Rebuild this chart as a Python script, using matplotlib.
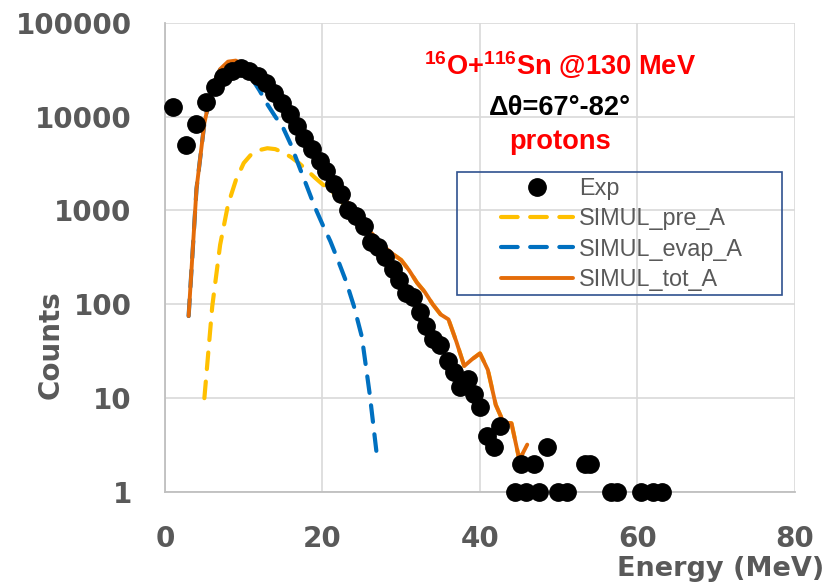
import matplotlib
matplotlib.use("Agg")
import matplotlib.pyplot as plt
from matplotlib import font_manager
from matplotlib.patches import Rectangle
from matplotlib.ticker import FixedLocator, FixedFormatter

# measured proton spectrum
exp_energy = [1.06, 2.67, 3.9, 5.16, 6.35, 7.4, 8.47, 9.6, 10.7, 11.85, 12.8, 13.84,
              14.86, 15.87, 16.7, 17.7, 18.7, 19.7, 20.5, 21.5, 22.35, 23.3, 24.25,
              25.3, 26.1, 27.1, 27.9, 28.9, 29.75, 30.6, 31.45, 32.4, 33.2, 34.0,
              34.9, 36.0, 36.7, 37.5, 38.5, 39.3, 40.0, 40.9, 41.8, 42.6, 44.4, 45.2,
              45.8, 46.8, 47.5, 48.5, 49.9, 51.0, 53.3, 54.0, 56.7, 57.4, 60.5, 62.0,
              63.1]
exp_counts = [12600, 5000, 8300, 14400, 20500, 26600, 30800, 32700, 30800, 27000,
              22900, 17900, 13800, 10600, 7900, 5900, 4480, 3360, 2630, 1910, 1500,
              1010, 870, 690, 465, 410, 321, 238, 183, 133, 120, 83, 59, 43, 37, 25,
              19, 13, 16, 11, 8, 4, 3, 5, 1, 2, 1, 2, 1, 3, 1, 1, 2, 2, 1, 1, 1, 1, 1]

# simulations
pre_energy = list(range(5, 47))
pre_counts = [10, 95, 430, 1150, 2100, 3200, 4000, 4400, 4600, 4500, 4150, 3700,
              3200, 2700, 2250, 1900, 1650, 1350, 1100, 900, 735, 590, 488, 400, 340,
              296, 230, 170, 135, 100, 78, 69, 40, 22, 26, 30, 20, 8.5, 5.5, 5.4, 2.2,
              3.2]

evap_energy = list(range(3, 28))
evap_counts = [75, 1700, 8490, 20900, 31600, 37400, 37400, 31800, 25700, 19000,
               13500, 10000, 7600, 5000, 3000, 1820, 1100, 710, 470, 290, 175, 95, 45,
               11, 2.1]

tot_energy = list(range(3, 47))
tot_counts = [75, 1700, 8500, 21000, 32000, 38500, 39500, 35000, 29500, 24500, 19500,
              15000, 11500, 8600, 6500, 4900, 3700, 2800, 2150, 1650, 1280, 1000, 780,
              600, 490, 400, 340, 296, 230, 170, 135, 100, 78, 69, 40, 22, 26, 30, 20,
              8.5, 5.5, 5.4, 2.2, 3.2]

x_ticks = [0, 20, 40, 60, 80]
y_ticks = [1, 10, 100, 1000, 10000, 100000]
y_tick_labels = ["1", "10", "100", "1000", "10000", "100000"]

GRAY = "#595959"
GRID = "#D9D9D9"
ORANGE = "#E46C0A"
BLUE = "#0070C0"
YELLOW = "#FFC000"
RED = "#FF0000"

installed = {f.name for f in font_manager.fontManager.ttflist}
label_font = "Liberation Sans" if "Liberation Sans" in installed else "DejaVu Sans"
narrow = "Liberation Sans Narrow" in installed

fig = plt.figure(figsize=(8.25, 5.84), dpi=100)
ax = fig.add_axes([0.2, 0.1575, 0.7636, 0.8036])

ax.set_yscale("log")
ax.set_xlim(0, 80)
ax.set_ylim(1, 100000)

ax.xaxis.set_major_locator(FixedLocator(x_ticks))
ax.yaxis.set_major_locator(FixedLocator(y_ticks))
ax.yaxis.set_major_formatter(FixedFormatter(y_tick_labels))
ax.yaxis.set_minor_locator(FixedLocator([]))
ax.grid(True, which="major", color=GRID, lw=1.2, zorder=0)
ax.set_axisbelow(True)

for side in ("top", "right"):
    ax.spines[side].set_visible(False)
for side in ("left", "bottom"):
    ax.spines[side].set_color("#BFBFBF")
    ax.spines[side].set_linewidth(1.3)

ax.tick_params(axis="x", length=0, pad=24, labelsize=20, labelcolor=GRAY)
ax.tick_params(axis="y", length=0, pad=24, labelsize=20, labelcolor=GRAY)
for lab in ax.get_xticklabels() + ax.get_yticklabels():
    lab.set_fontweight("bold")

# curves, then the data points on top
l_pre, = ax.plot(pre_energy, pre_counts, color=YELLOW, lw=3, ls=(0, (4, 3)),
                 dash_capstyle="round", zorder=2, label="SIMUL_pre_A")
l_evap, = ax.plot(evap_energy, evap_counts, color=BLUE, lw=3, ls=(0, (4, 3)),
                  dash_capstyle="round", zorder=3, label="SIMUL_evap_A")
l_tot, = ax.plot(tot_energy, tot_counts, color=ORANGE, lw=2.8,
                 solid_capstyle="round", zorder=4, label="SIMUL_tot_A")
l_exp, = ax.plot(exp_energy, exp_counts, ls="none", marker="o", ms=12.5,
                 color="black", zorder=5, clip_on=False, label="Exp")

leg = ax.legend(handles=[l_exp, l_pre, l_evap, l_tot], loc="center left",
                bbox_to_anchor=(0.5145, 0.55), frameon=False, borderpad=0,
                handlelength=3.1, handletextpad=0.25, labelspacing=0.31,
                numpoints=1, prop={"family": label_font, "size": 16.8})
for t in leg.get_texts():
    t.set_color(GRAY)

ax.add_patch(Rectangle((0.4635, 0.4198), 0.5155, 0.2622, transform=ax.transAxes,
                       fill=False, edgecolor="#2F528F", lw=1.2, zorder=6))

# reaction labels
fig.text(560 / 825, 1 - 75 / 584,
         r"$\mathregular{^{16}}$O+$\mathregular{^{116}}$Sn @130 MeV",
         ha="center", va="baseline", color=RED, fontsize=19.6,
         fontweight="bold", family=label_font)
fig.text(560 / 825, 1 - 115 / 584, "Δθ=67°-82°", ha="center", va="baseline",
         color="black", fontsize=19.6, fontweight="bold", family=label_font)
fig.text(560 / 825, 1 - 149 / 584, "protons", ha="center", va="baseline",
         color=RED, fontsize=19.6, fontweight="bold", family=label_font)

# axis titles
fig.text(51 / 825, 1 - 345 / 584, "Counts", rotation=90, ha="center", va="center",
         color=GRAY, fontsize=20, fontweight="bold")
if narrow:
    fig.text(824 / 825, 1 - 576 / 584, "Energy (MeV)", ha="right", va="baseline",
             color=GRAY, fontsize=24, fontweight="bold", family="Liberation Sans Narrow")
else:
    fig.text(824 / 825, 1 - 576 / 584, "Energy (MeV)", ha="right", va="baseline",
             color=GRAY, fontsize=19.5, fontweight="bold", family="DejaVu Sans")

fig.savefig("out.png", dpi=100)
